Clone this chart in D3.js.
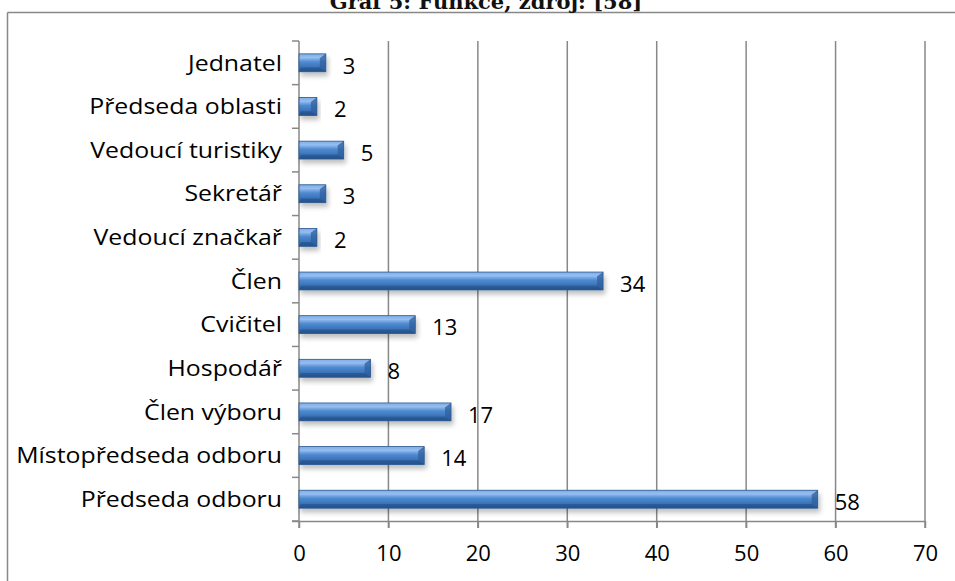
<!DOCTYPE html>
<html><head><meta charset="utf-8">
<script src="https://cdn.jsdelivr.net/npm/d3@7/dist/d3.min.js"></script>
<style>body{margin:0;background:#fff}svg{display:block}</style>
</head><body>
<script>
const categories = ["Jednatel","Předseda oblasti","Vedoucí turistiky","Sekretář","Vedoucí značkař","Člen","Cvičitel","Hospodář","Člen výboru","Místopředseda odboru","Předseda odboru"];
const values = [3,2,5,3,2,34,13,8,17,14,58];
const xTicks = [0,10,20,30,40,50,60,70];
const title = "Graf 5: Funkce, zdroj: [58]";

const W = 955, H = 581;
const svg = d3.select("body").append("svg").attr("width", W).attr("height", H);
const defs = svg.append("defs");
const g1 = defs.append("linearGradient").attr("id","barg").attr("x1",0).attr("y1",0).attr("x2",0).attr("y2",1);
[[0,"#5b93d6"],[0.22,"#8fbaf0"],[0.45,"#4f8ad0"],[0.75,"#3a72b8"],[1,"#2b5890"]].forEach(([o,c])=>g1.append("stop").attr("offset",o).attr("stop-color",c));
const f = defs.append("filter").attr("id","sh").attr("x","-10%").attr("y","-30%").attr("width","130%").attr("height","200%");
f.append("feGaussianBlur").attr("in","SourceAlpha").attr("stdDeviation",2.5).attr("result","b");
f.append("feOffset").attr("in","b").attr("dx",2).attr("dy",4).attr("result","o");
f.append("feComponentTransfer").attr("in","o").attr("result","o2").append("feFuncA").attr("type","linear").attr("slope",0.25);
const fm = f.append("feMerge"); fm.append("feMergeNode").attr("in","o2"); fm.append("feMergeNode").attr("in","SourceGraphic");

// outer frame
svg.append("line").attr("x1",7.5).attr("x2",W).attr("y1",12.5).attr("y2",12.5).attr("stroke","#888").attr("stroke-width",1.5);
svg.append("line").attr("x1",7.5).attr("x2",7.5).attr("y1",12.5).attr("y2",H).attr("stroke","#888").attr("stroke-width",1.5);

svg.append("text").attr("x",486).attr("y",9).attr("text-anchor","middle")
  .attr("font-family","'DejaVu Serif', 'Liberation Serif', serif").attr("font-weight","bold").attr("font-size",21)
  .attr("fill","#111").text(title);

const x = d3.scaleLinear().domain([0,70]).range([299,925]);
const y = d3.scaleBand().domain(categories).range([41,521]).paddingInner(0.59).paddingOuter(0.295);
const font = "'Open Sans', sans-serif";
const fs = 22;

// gridlines
svg.append("g").selectAll("line").data(xTicks.slice(1)).join("line")
  .attr("x1",d=>x(d)).attr("x2",d=>x(d)).attr("y1",41).attr("y2",528)
  .attr("stroke","#888").attr("stroke-width",1.5);

// x axis
const xa = svg.append("g").attr("transform","translate(0,521)")
  .call(d3.axisBottom(x).tickValues(xTicks).tickSize(7).tickPadding(17));
xa.select(".domain").attr("stroke","#888").attr("stroke-width",1.5).attr("d","M292,0.5H"+x(70));
xa.selectAll(".tick line").attr("stroke","#888").attr("stroke-width",1.5);
xa.selectAll("text").attr("font-family",font).attr("font-size",fs).attr("fill","#000");

// y axis
const bandStep = y.step();
const yTickPos = d3.range(categories.length+1).map(i=>41+i*bandStep);
svg.append("line").attr("x1",299).attr("x2",299).attr("y1",41).attr("y2",528).attr("stroke","#888").attr("stroke-width",1.5);
svg.append("g").selectAll("line").data(yTickPos).join("line")
  .attr("x1",292).attr("x2",299).attr("y1",d=>d).attr("y2",d=>d).attr("stroke","#888").attr("stroke-width",1.5);
svg.append("g").selectAll("text").data(categories).join("text")
  .attr("transform",d=>`translate(282,${y(d)+y.bandwidth()/2}) scale(1.13,1)`)
  .attr("dy","0.35em").attr("text-anchor","end")
  .attr("font-family",font).attr("font-size",fs).attr("fill","#000").text(d=>d);

// bars
const bars = svg.append("g").selectAll("g").data(categories.map((c,i)=>({c,v:values[i]}))).join("g").attr("filter","url(#sh)");
bars.append("rect").attr("x",x(0)).attr("y",d=>y(d.c)).attr("width",d=>x(d.v)-x(0)).attr("height",y.bandwidth()).attr("fill","url(#barg)");
const bev = 6;
bars.append("path").attr("d",d=>{const x1=x(d.v), y0=y(d.c), h=y.bandwidth();
  return `M${x1-bev},${y0+bev*0.7}L${x1},${y0}L${x1},${y0+h}L${x1-bev},${y0+h-bev*0.7}Z`;}).attr("fill","#2f5f9c").attr("opacity",0.75);
bars.append("path").attr("d",d=>{const x0=x(0), x1=x(d.v), y0=y(d.c);
  return `M${x0},${y0}L${x1},${y0}L${x1-bev},${y0+bev*0.7}L${x0+2},${y0+bev*0.7}Z`;}).attr("fill","#9cc3f2").attr("opacity",0.55);
bars.append("path").attr("d",d=>{const x0=x(0), x1=x(d.v), y0=y(d.c)+y.bandwidth();
  return `M${x0},${y0}L${x1},${y0}L${x1-bev},${y0-bev*0.7}L${x0+2},${y0-bev*0.7}Z`;}).attr("fill","#1f4a80").attr("opacity",0.5);
bars.append("rect").attr("x",x(0)).attr("y",d=>y(d.c)).attr("width",d=>x(d.v)-x(0)).attr("height",y.bandwidth()).attr("fill","none").attr("stroke","#2c5a92").attr("stroke-width",0.8);

// value labels
svg.append("g").selectAll("text").data(categories.map((c,i)=>({c,v:values[i]}))).join("text")
  .attr("x",d=>x(d.v)+17).attr("y",d=>y(d.c)+y.bandwidth()/2+3).attr("dy","0.35em")
  .attr("font-family",font).attr("font-size",fs).attr("fill","#000").text(d=>d.v);
</script>
</body></html>
